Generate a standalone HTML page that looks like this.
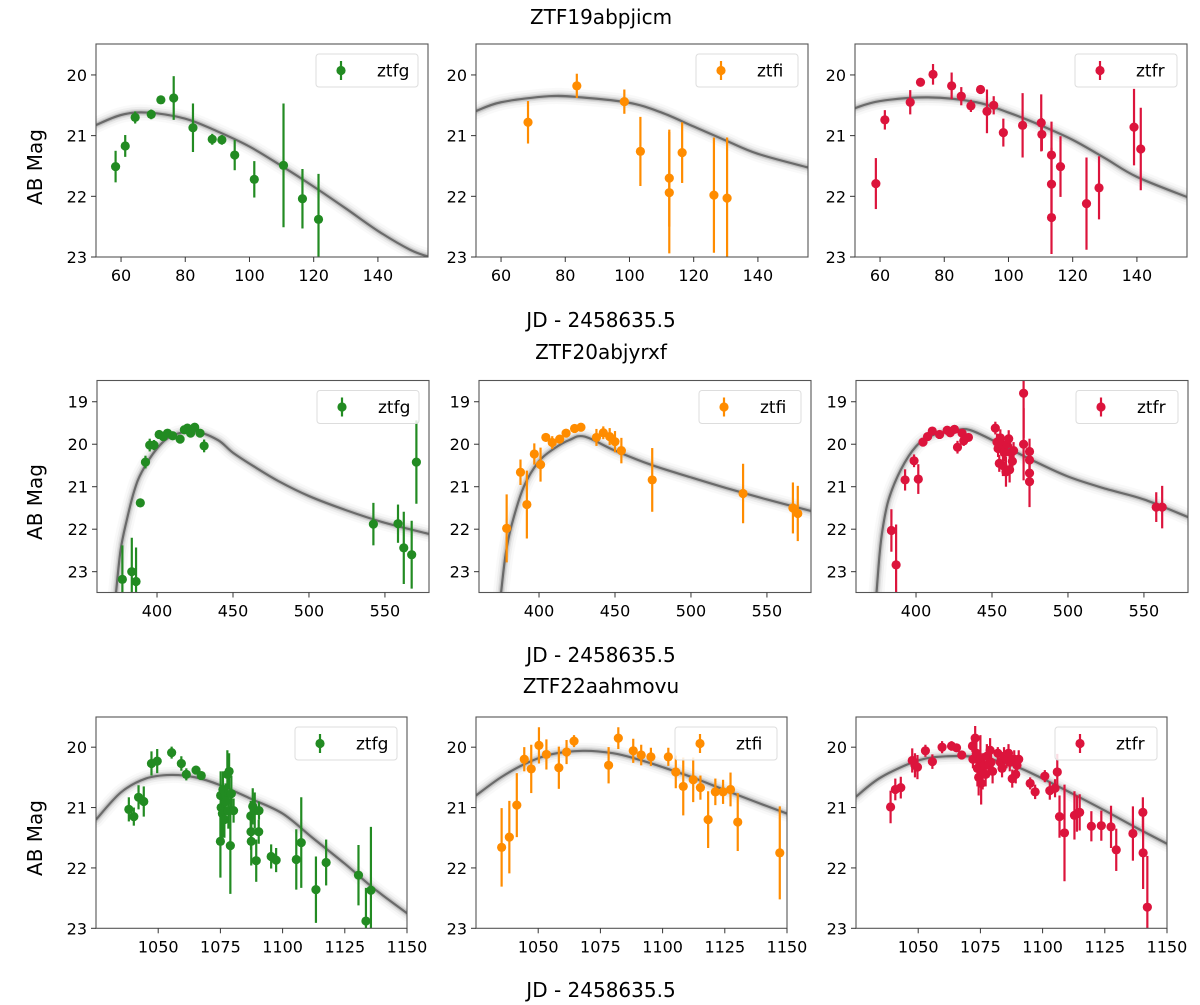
<!DOCTYPE html>
<html><head><meta charset="utf-8">
<style>
html,body{margin:0;padding:0;background:#fff;}
svg{display:block;font-family:"DejaVu Sans","Liberation Sans",sans-serif;}
</style></head>
<body>
<svg id="fig" width="1200" height="1005" viewBox="0 0 1200 1005" xmlns="http://www.w3.org/2000/svg">
<rect width="1200" height="1005" fill="#fff"/>
<text x="601" y="24" font-size="20" text-anchor="middle">ZTF19abpjicm</text>
<text x="601" y="327" font-size="20" text-anchor="middle">JD - 2458635.5</text>
<text x="601" y="359" font-size="20" text-anchor="middle">ZTF20abjyrxf</text>
<text x="601" y="662" font-size="20" text-anchor="middle">JD - 2458635.5</text>
<text x="601" y="693" font-size="20" text-anchor="middle">ZTF22aahmovu</text>
<text x="601" y="997" font-size="20" text-anchor="middle">JD - 2458635.5</text>
<text transform="translate(42,167) rotate(-90)" font-size="20" text-anchor="middle">AB Mag</text>
<text transform="translate(42,502) rotate(-90)" font-size="20" text-anchor="middle">AB Mag</text>
<text transform="translate(42,838) rotate(-90)" font-size="20" text-anchor="middle">AB Mag</text>
</svg>
<script>
// ---------- data ----------
const row1_xticks=[60,80,100,120,140];
const row2_xticks=[400,450,500,550];
const row3_xticks=[1050,1075,1100,1125,1150];
const row1_yticks=[20,21,22,23];
const row2_yticks=[19,20,21,22,23];
const row3_yticks=[20,21,22,23];
const bands=["ztfg","ztfi","ztfr"];
const bandColors=["#228b22","#ff8c00","#dc143c"];

// [jd, mag, err]
const row1_ztfg=[[58.3,21.51,0.26],[61.3,21.17,0.18],[64.4,20.7,0.1],[69.4,20.65,0.08],[72.4,20.41,0.05],[76.4,20.38,0.36],[82.4,20.87,0.4],[88.4,21.06,0.09],[91.4,21.07,0.08],[95.4,21.32,0.25],[101.5,21.72,0.3],[110.6,21.49,1.02],[116.5,22.04,0.49],[121.5,22.38,0.75]];
const row1_ztfi=[[68.4,20.78,0.35],[83.6,20.18,0.2],[98.4,20.44,0.2],[103.4,21.26,0.57],[112.4,21.7,0.8],[112.4,21.94,1.0],[116.4,21.28,0.5],[126.3,21.98,0.95],[130.4,22.03,1.0]];
const row1_ztfr=[[58.7,21.79,0.42],[61.5,20.74,0.16],[69.4,20.45,0.2],[72.6,20.12,0.06],[76.5,19.99,0.17],[82.3,20.18,0.22],[85.3,20.35,0.15],[88.3,20.51,0.1],[91.3,20.24,0.07],[93.3,20.6,0.36],[95.4,20.5,0.15],[98.4,20.95,0.23],[104.4,20.83,0.53],[110.2,20.79,0.47],[110.4,20.98,0.27],[113.4,21.32,0.55],[113.4,21.8,0.6],[113.4,22.35,0.6],[116.2,21.51,0.5],[124.3,22.12,0.76],[128.2,21.86,0.52],[139.1,20.86,0.63],[141.2,21.22,0.68]];

const row2_ztfg=[[377.2,23.18,0.8],[383.4,23.0,0.8],[386.2,23.23,0.8],[389,21.38,0.1],[392.4,20.42,0.15],[395.2,20.02,0.15],[398,20.02,0.12],[401.4,19.77,0.1],[404.1,19.82,0.1],[406.9,19.74,0.08],[410.3,19.8,0.07],[415.2,19.88,0.06],[418,19.66,0.08],[420,19.62,0.08],[422.1,19.74,0.08],[424.8,19.6,0.08],[428.3,19.74,0.1],[431,20.04,0.15],[542.4,21.88,0.5],[558.6,21.87,0.45],[562.4,22.44,0.85],[567.6,22.6,0.8],[570.7,20.42,0.98]];
const row2_ztfi=[[378.7,21.98,0.8],[387.8,20.66,0.3],[392,21.42,0.8],[396.9,20.23,0.25],[401,20.48,0.4],[404.5,19.84,0.1],[408.7,19.96,0.15],[413.6,19.88,0.1],[417.8,19.74,0.1],[423.4,19.63,0.1],[427.6,19.6,0.1],[437.8,19.84,0.2],[442.3,19.73,0.15],[446.5,19.82,0.2],[450,19.94,0.25],[454.2,20.15,0.3],[474.5,20.84,0.75],[534.3,21.16,0.7],[567.1,21.5,0.6],[570.3,21.63,0.65]];
const row2_ztfr=[[383.8,22.03,0.5],[386.9,22.84,0.95],[392.8,20.84,0.25],[398.7,20.39,0.15],[401.5,20.82,0.35],[404.6,19.95,0.05],[407.6,19.82,0.06],[410.7,19.69,0.05],[415.5,19.77,0.07],[420.5,19.67,0.05],[422.5,19.73,0.05],[425.3,19.65,0.05],[427.3,20.07,0.15],[430.3,19.74,0.1],[431.4,19.92,0.12],[434.5,19.84,0.07],[452.2,19.62,0.15],[453.3,19.95,0.2],[454,20.1,0.2],[454.8,20.45,0.2],[455.5,19.85,0.2],[456.6,20.0,0.2],[457.2,20.5,0.25],[458.1,20.2,0.2],[459.2,20.65,0.35],[459.8,20.0,0.2],[461,19.87,0.2],[461.6,20.6,0.3],[462.5,20.2,0.2],[463.4,20.4,0.2],[464.2,20.15,0.2],[470.8,18.8,1.05],[470.8,20.0,0.85],[474.7,20.17,0.3],[474.7,20.37,0.3],[474.7,20.68,0.3],[474.7,20.88,0.6],[558.1,21.48,0.35],[562,21.48,0.5]];

const row3_ztfg=[[1038.2,21.03,0.2],[1040.2,21.15,0.15],[1042.1,20.83,0.2],[1044.2,20.9,0.25],[1047.3,20.27,0.2],[1049.6,20.23,0.2],[1055.4,20.09,0.1],[1059.3,20.27,0.12],[1061.3,20.45,0.1],[1065.2,20.38,0.07],[1067.3,20.47,0.07],[1075,21.56,0.6],[1075.1,20.8,0.4],[1075.3,21.0,0.3],[1075.8,21.1,0.4],[1076,20.7,0.3],[1076.6,21.2,0.3],[1077.1,20.9,0.3],[1077.8,20.45,0.4],[1078.2,21.05,0.3],[1078.5,20.4,0.3],[1079,21.63,0.8],[1079.4,20.77,0.3],[1080.3,21.05,0.2],[1087.2,21.14,0.25],[1087.3,21.4,0.3],[1087.4,21.56,0.4],[1088,20.98,0.3],[1088.8,21.05,0.3],[1089.4,21.88,0.35],[1090.4,21.4,0.2],[1090.5,21.05,0.15],[1095.4,21.81,0.2],[1097.4,21.87,0.2],[1105.5,21.86,0.5],[1107.5,21.58,0.75],[1113.4,22.36,0.55],[1117.5,21.91,0.38],[1130.5,22.12,0.5],[1133.5,22.88,0.55],[1135.5,22.37,1.05]];
const row3_ztfi=[[1035.3,21.66,0.65],[1038.4,21.49,0.6],[1041.4,20.96,0.53],[1044.4,20.2,0.2],[1047.2,20.36,0.4],[1050.3,19.97,0.3],[1053.3,20.12,0.25],[1058.3,20.34,0.35],[1061.4,20.08,0.2],[1064.4,19.9,0.1],[1078.3,20.3,0.3],[1082.2,19.85,0.18],[1088.2,20.06,0.2],[1091.4,20.13,0.17],[1095.3,20.16,0.15],[1102.3,20.16,0.15],[1105.3,20.41,0.27],[1108.3,20.65,0.48],[1112.3,20.54,0.37],[1115.2,20.67,0.2],[1118.3,21.2,0.47],[1121.2,20.74,0.22],[1124.3,20.74,0.2],[1127.3,20.7,0.28],[1130.2,21.24,0.48],[1147.1,21.75,0.77]];
const row3_ztfr=[[1038.9,20.99,0.27],[1040.8,20.7,0.18],[1043,20.67,0.18],[1047.6,20.22,0.2],[1048.7,20.3,0.2],[1049.7,20.33,0.2],[1052.9,20.06,0.1],[1055.7,20.24,0.12],[1059.6,20.0,0.1],[1063.4,19.98,0.08],[1065.4,20.01,0.07],[1067.5,20.13,0.07],[1071.8,19.98,0.1],[1072,20.2,0.15],[1072.9,19.85,0.2],[1073.4,20.1,0.2],[1073.8,20.35,0.3],[1074.3,20.5,0.3],[1075,20.2,0.4],[1075.3,20.6,0.35],[1075.9,20.4,0.3],[1076.6,20.3,0.2],[1077.1,20.45,0.2],[1077.6,20.15,0.2],[1078.3,20.3,0.2],[1078.9,20.05,0.2],[1079.3,20.25,0.2],[1079.9,20.4,0.2],[1082,20.1,0.1],[1083,20.25,0.1],[1083.7,20.35,0.15],[1084.5,20.15,0.15],[1085.5,20.2,0.15],[1086.3,20.1,0.15],[1086.8,20.25,0.15],[1087.8,20.52,0.15],[1088.6,20.2,0.15],[1089.2,20.45,0.15],[1089.7,20.3,0.15],[1090.4,20.2,0.15],[1095,20.6,0.1],[1097,20.74,0.12],[1100.9,20.48,0.1],[1102.9,20.72,0.15],[1105,20.68,0.15],[1105.9,20.41,0.3],[1106.8,21.15,0.35],[1108.8,21.42,0.8],[1112.8,21.13,0.4],[1113.8,21.1,0.3],[1114.9,21.08,0.3],[1119.6,21.31,0.25],[1123.6,21.3,0.25],[1127.5,21.32,0.35],[1129.6,21.7,0.35],[1136.3,21.43,0.45],[1140.3,21.08,0.25],[1140.4,21.75,0.6],[1142.1,22.65,0.85]];

// model light curves
const row1_ztfg_model_jd=[52,60,68,80,90,100,110,120,130,140,150,156];
const row1_ztfg_model_mag=[20.83,20.66,20.62,20.72,20.93,21.18,21.5,21.84,22.2,22.57,22.88,23.0];
const row1_ztfi_model_jd=[52,60,75,85,100,110,120,130,140,156];
const row1_ztfi_model_mag=[20.6,20.45,20.35,20.37,20.46,20.62,20.85,21.08,21.3,21.53];
const row1_ztfr_model_jd=[52,60,75,90,100,110,120,130,140,156];
const row1_ztfr_model_mag=[20.55,20.43,20.37,20.45,20.62,20.83,21.07,21.37,21.68,22.02];
const row2_ztfg_model_jd=[373,376,380,385,390,400,410,425,440,450,465,480,500,525,550,580];
const row2_ztfg_model_mag=[23.5,22.5,21.8,21.1,20.65,20.1,19.8,19.7,19.9,20.2,20.55,20.87,21.22,21.56,21.85,22.12];
const row2_ztfi_model_jd=[375,378,382,390,400,410,420,430,450,475,500,525,550,580];
const row2_ztfi_model_mag=[23.5,22.6,21.9,21.0,20.4,20.1,19.9,19.82,20.15,20.5,20.78,21.05,21.3,21.58];
const row2_ztfr_model_jd=[374,376,378,382,390,400,410,425,435,450,475,500,525,550,580];
const row2_ztfr_model_mag=[23.5,22.6,22.0,21.3,20.6,20.05,19.8,19.68,19.66,19.9,20.35,20.76,21.05,21.3,21.73];
const row3_ztfg_model_jd=[1025,1035,1045,1055,1065,1075,1087,1100,1112,1125,1137,1150];
const row3_ztfg_model_mag=[21.2,20.75,20.52,20.46,20.5,20.63,20.85,21.1,21.5,21.93,22.35,22.75];
const row3_ztfi_model_jd=[1025,1035,1045,1055,1068,1080,1090,1100,1112,1125,1137,1150];
const row3_ztfi_model_mag=[20.8,20.5,20.27,20.12,20.06,20.1,20.2,20.33,20.5,20.71,20.9,21.1];
const row3_ztfr_model_jd=[1025,1035,1050,1062,1075,1088,1100,1112,1125,1137,1150];
const row3_ztfr_model_mag=[20.82,20.5,20.22,20.15,20.17,20.3,20.52,20.77,21.05,21.32,21.6];

// ---------- layout ----------
const rows=[
 {top:44,bottom:257,ymin:19.49,ymax:23.0,xmin:52.2,xmax:155.6,lefts:[96,476,855],width:332,xticks:row1_xticks,yticks:row1_yticks,
  data:[row1_ztfg,row1_ztfi,row1_ztfr],mjd:[row1_ztfg_model_jd,row1_ztfi_model_jd,row1_ztfr_model_jd],mmag:[row1_ztfg_model_mag,row1_ztfi_model_mag,row1_ztfr_model_mag]},
 {top:380.5,bottom:592.5,ymin:18.5,ymax:23.49,xmin:360.5,xmax:579,lefts:[97,479,856],width:332,xticks:row2_xticks,yticks:row2_yticks,
  data:[row2_ztfg,row2_ztfi,row2_ztfr],mjd:[row2_ztfg_model_jd,row2_ztfi_model_jd,row2_ztfr_model_jd],mmag:[row2_ztfg_model_mag,row2_ztfi_model_mag,row2_ztfr_model_mag]},
 {top:717,bottom:928.3,ymin:19.5,ymax:23.0,xmin:1025,xmax:1150,lefts:[96,476,856],width:311,xticks:row3_xticks,yticks:row3_yticks,
  data:[row3_ztfg,row3_ztfi,row3_ztfr],mjd:[row3_ztfg_model_jd,row3_ztfi_model_jd,row3_ztfr_model_jd],mmag:[row3_ztfg_model_mag,row3_ztfi_model_mag,row3_ztfr_model_mag]}
];
const NS="http://www.w3.org/2000/svg";
const svg=document.getElementById('fig');
function mk(tag,attrs,parent){const e=document.createElementNS(NS,tag);for(const k in attrs)e.setAttribute(k,attrs[k]);(parent||svg).appendChild(e);return e;}
function smoothPath(pts){
  let d="M"+pts[0][0].toFixed(2)+","+pts[0][1].toFixed(2);
  for(let i=0;i<pts.length-1;i++){
    const p0=pts[Math.max(0,i-1)],p1=pts[i],p2=pts[i+1],p3=pts[Math.min(pts.length-1,i+2)];
    const c1=[p1[0]+(p2[0]-p0[0])/6,p1[1]+(p2[1]-p0[1])/6];
    const c2=[p2[0]-(p3[0]-p1[0])/6,p2[1]-(p3[1]-p1[1])/6];
    d+=" C"+c1[0].toFixed(2)+","+c1[1].toFixed(2)+" "+c2[0].toFixed(2)+","+c2[1].toFixed(2)+" "+p2[0].toFixed(2)+","+p2[1].toFixed(2);
  }
  return d;
}
rows.forEach((row,ri)=>{
  const H=row.bottom-row.top;
  const yS=m=>row.top+(m-row.ymin)/(row.ymax-row.ymin)*H;
  row.lefts.forEach((L,ci)=>{
    const W=row.width;
    const xS=v=>L+(v-row.xmin)/(row.xmax-row.xmin)*W;
    const g=mk('g',{});
    
    
    const cid='clip'+ri+ci;
    const cp=mk('clipPath',{id:cid},g);
    mk('rect',{x:L,y:row.top,width:W,height:H},cp);
    const plot=mk('g',{'clip-path':'url(#'+cid+')'},g);
    // model band
    const pts=row.mjd[ci].map((x,i)=>[xS(x),yS(row.mmag[ci][i])]);
    const d=smoothPath(pts);
    [[16,0.05],[11,0.09],[7,0.18],[4.5,0.3]].forEach(s=>{
      const p=mk('path',{d:d,fill:'none',stroke:'#888','stroke-width':s[0],'stroke-opacity':s[1],'stroke-linecap':'round'},plot);
      
      
    });
    const ml=mk('path',{d:d,fill:'none',stroke:'#6a6a6a','stroke-width':2.2},plot);
    
    
    // data points
    const col=bandColors[ci];
    row.data[ci].forEach(p=>{
      const x=xS(p[0]);
      const eb=mk('line',{x1:x,x2:x,y1:yS(p[1]-p[2]),y2:yS(p[1]+p[2]),stroke:col,'stroke-width':2.2},plot);
      
      
      const c=mk('circle',{cx:x,cy:yS(p[1]),r:4.6,fill:col},plot);
      
      
    });
    // frame
    const fr=mk('rect',{x:L,y:row.top,width:W,height:H,fill:'none',stroke:'#555','stroke-width':1.1},g);
    
    
    // ticks
    row.xticks.forEach(t=>{
      const x=xS(t);
      mk('line',{x1:x,x2:x,y1:row.bottom,y2:row.bottom+5,stroke:'#333','stroke-width':1},g);
      const tx=mk('text',{x:x,y:row.bottom+24,'font-size':16,'text-anchor':'middle',fill:'#000'},g);
      tx.textContent=t;
      
      
    });
    row.yticks.forEach(t=>{
      const y=yS(t);
      mk('line',{x1:L-5,x2:L,y1:y,y2:y,stroke:'#333','stroke-width':1},g);
      const tx=mk('text',{x:L-9,y:y+6,'font-size':16,'text-anchor':'end',fill:'#000'},g);
      tx.textContent=t;
      
      
    });
    // legend
    const lg=mk('g',{},g);
    
    
    const lx=L+W-112, ly=row.top+10;
    mk('rect',{x:lx,y:ly,width:102,height:33,rx:3,fill:'#fff','fill-opacity':0.85,stroke:'#ddd','stroke-width':1},lg);
    mk('line',{x1:lx+25,x2:lx+25,y1:ly+7,y2:ly+26,stroke:col,'stroke-width':2.2},lg);
    mk('circle',{cx:lx+25,cy:ly+16.5,r:4.6,fill:col},lg);
    const lt=mk('text',{x:lx+61,y:ly+22.5,'font-size':17,fill:'#000'},lg);
    lt.textContent=bands[ci];
  });
});
</script>
</body></html>
